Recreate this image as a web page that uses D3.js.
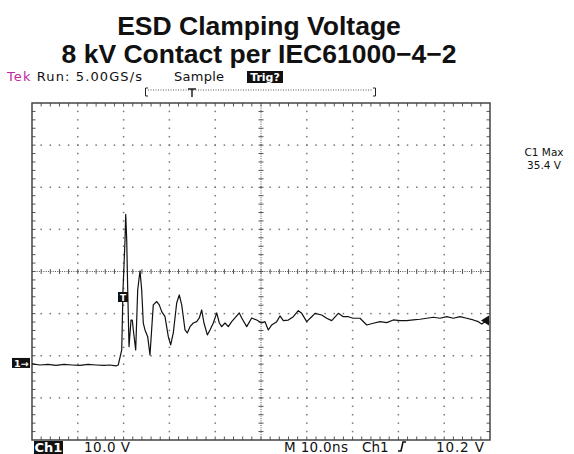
<!DOCTYPE html>
<html><head><meta charset="utf-8">
<script src="https://cdn.jsdelivr.net/npm/d3@7"></script>
<style>html,body{margin:0;padding:0;background:#fff;}svg{display:block;}</style>
</head><body>
<script>
// ---- data ----
const titleLines = ["ESD Clamping Voltage", "8 kV Contact per IEC61000\u22124\u22122"];
const timeNs = [0,1.75,3.49,5.24,6.99,8.73,10.48,12.23,13.97,15.72,17.03,18.34,18.84,19.59,19.87,20.31,20.46,20.68,20.90,21.18,21.62,21.9,22.12,22.64,23.08,23.58,23.95,24.3,24.67,25.26,25.76,26.48,27.23,27.79,28.32,29.04,29.76,30.28,30.85,31.59,32.16,32.69,33.41,33.91,34.5,35.22,35.96,36.53,37.05,37.55,38.28,38.86,39.59,40.33,40.9,41.42,42.14,42.86,43.6,44.32,45.26,45.79,46.88,47.97,49.06,50.15,50.87,51.59,52.34,53.43,54.15,54.87,55.96,57.05,58.14,58.89,59.98,61.07,61.79,63.25,64.34,65.44,66.88,67.97,69.06,70.15,71.62,73.08,74.52,75.98,77.45,78.89,80.35,81.81,83.25,84.72,86.18,87.62,89.08,90.55,91.99,93.45,94.91,96.35,97.45,98.19,98.91,99.63];
const voltsV = [-0.12,-0.36,-0.24,-0.47,-0.24,-0.36,-0.47,-0.24,-0.36,-0.47,-0.36,-0.59,-0.36,3.2,17.45,29.3,35.4,29.3,17.45,4.0,10.3,10.3,7.95,3.2,17.45,22.0,17.45,9.6,7.95,6.36,2.0,13.9,14.7,13.9,12.3,11.1,6.36,4.4,7.24,14.36,16.26,13.9,7.95,7.24,8.74,9.6,9.92,10.8,12.7,9.6,6.77,7.95,9.6,12.0,9.6,8.74,9.6,8.74,9.92,10.8,12.0,10.8,8.74,10.8,10.3,9.6,9.92,7.95,9.14,9.92,11.28,10.16,10.3,11.1,12.53,11.9,9.92,11.1,11.9,11.5,10.73,10.16,11.9,11.1,11.1,10.73,10.73,9.14,9.54,9.92,9.69,10.33,10.16,10.16,10.33,10.49,10.73,10.97,10.73,11.1,10.73,11.1,10.73,10.33,9.92,9.38,9.92,9.69];
const timeDomain = [0, 100];          // ns, 10 ns/div
const voltDomain = [-18.17, 61.83];   // V, 10 V/div
const measLabels = ["C1 Max", "35.4 V"];
const bottomLabels = {ch: "Ch1", volts: "10.0 V", time: "M 10.0ns", trigCh: "Ch1", trigLevel: "10.2 V"};

const W = 574, H = 454;
const svg = d3.select("body").append("svg").attr("width", W).attr("height", H);
const L = 32, R = 490, T = 103, B = 440;
const x = d3.scaleLinear().domain(timeDomain).range([L, R]);
const y = d3.scaleLinear().domain(voltDomain).range([B, T]);
const dx = d3.scaleLinear().domain([0, 10]).range([L, R]);
const dy = d3.scaleLinear().domain([0, 8]).range([B, T]);
const FONT = "DejaVu Sans, sans-serif";

// titles
svg.selectAll("text.title").data(titleLines).join("text")
  .attr("x", 259).attr("y", (d, i) => 35 + i * 28)
  .attr("text-anchor", "middle").attr("font-family", "Liberation Sans, Arial, sans-serif")
  .attr("font-weight", "bold").attr("font-size", 26.5).attr("fill", "#111").text(d => d);

// header
const hdr = svg.append("text").attr("x", 7).attr("y", 81).attr("font-family", FONT).attr("font-size", 13)
  .attr("textLength", 135).attr("lengthAdjust", "spacing");
hdr.append("tspan").attr("fill", "#c2289e").text("Tek");
hdr.append("tspan").attr("fill", "#111").text(" Run: 5.00GS/s");
svg.append("text").attr("x", 174).attr("y", 81).attr("font-family", FONT).attr("font-size", 13).attr("fill", "#111")
  .attr("textLength", 50).attr("lengthAdjust", "spacing").text("Sample");
svg.append("rect").attr("x", 247).attr("y", 71).attr("width", 36).attr("height", 12).attr("fill", "#111");
svg.append("text").attr("x", 265).attr("y", 81).attr("text-anchor", "middle").attr("font-family", FONT).attr("font-weight", "bold").attr("font-size", 11).attr("fill", "#fff").text("Trig?");

// record bar
const bar = svg.append("g").attr("stroke", "#222").attr("fill", "none");
bar.append("path").attr("d", "M148,88 L145.5,88 L145.5,96 L148,96").attr("stroke-width", 1);
bar.append("path").attr("d", "M373,88 L375.5,88 L375.5,96 L373,96").attr("stroke-width", 1);
bar.append("line").attr("x1", 148).attr("x2", 373).attr("y1", 90).attr("y2", 90).attr("stroke-width", 1).attr("stroke-dasharray", "1,1.5").attr("stroke", "#555");
bar.append("path").attr("d", "M188,89 L196,89 M192,89 L192,97").attr("stroke-width", 1.5);

// grid
const grid = svg.append("g");
const minorX = d3.range(0, 50.001, 1).map(i => i / 5);
const minorY = d3.range(0, 40.001, 1).map(i => i / 5);
for (let i = 1; i < 10; i++) {
  if (i === 5) continue;
  grid.selectAll(null).data(minorY.slice(1, -1)).join("rect")
    .attr("x", dx(i) - 0.75).attr("y", d => dy(d) - 0.75).attr("width", 1.5).attr("height", 1.5).attr("fill", "#777");
}
for (let j = 1; j < 8; j++) {
  if (j === 4) continue;
  grid.selectAll(null).data(minorX.slice(1, -1)).join("rect")
    .attr("x", d => dx(d) - 0.75).attr("y", dy(j) - 0.75).attr("width", 1.5).attr("height", 1.5).attr("fill", "#777");
}
grid.append("line").attr("x1", L).attr("x2", R).attr("y1", dy(4)).attr("y2", dy(4)).attr("stroke", "#555").attr("stroke-width", 1).attr("stroke-dasharray", "1,1.3");
grid.append("line").attr("x1", dx(5)).attr("x2", dx(5)).attr("y1", T).attr("y2", B).attr("stroke", "#555").attr("stroke-width", 1).attr("stroke-dasharray", "1,1.3");
grid.selectAll(null).data(minorX.slice(1, -1)).join("line")
  .attr("x1", d => dx(d)).attr("x2", d => dx(d)).attr("y1", dy(4) - 2.5).attr("y2", dy(4) + 2.5).attr("stroke", "#555");
grid.selectAll(null).data(minorY.slice(1, -1)).join("line")
  .attr("y1", d => dy(d)).attr("y2", d => dy(d)).attr("x1", dx(5) - 2.5).attr("x2", dx(5) + 2.5).attr("stroke", "#555");
grid.selectAll(null).data(minorX.slice(1, -1)).join("line")
  .attr("x1", d => dx(d)).attr("x2", d => dx(d)).attr("y1", T).attr("y2", T + 3.5).attr("stroke", "#555");
grid.selectAll(null).data(minorX.slice(1, -1)).join("line")
  .attr("x1", d => dx(d)).attr("x2", d => dx(d)).attr("y1", B).attr("y2", B - 3.5).attr("stroke", "#555");
grid.selectAll(null).data(minorY.slice(1, -1)).join("line")
  .attr("y1", d => dy(d)).attr("y2", d => dy(d)).attr("x1", L).attr("x2", L + 3.5).attr("stroke", "#555");
grid.selectAll(null).data(minorY.slice(1, -1)).join("line")
  .attr("y1", d => dy(d)).attr("y2", d => dy(d)).attr("x1", R).attr("x2", R - 3.5).attr("stroke", "#555");
grid.append("rect").attr("x", L).attr("y", T).attr("width", R - L).attr("height", B - T)
  .attr("fill", "none").attr("stroke", "#444").attr("stroke-width", 1.5);

// trace
const pts = timeNs.map((t, i) => [t, voltsV[i]]);
svg.append("path").datum(pts)
  .attr("d", d3.line().x(d => x(d[0])).y(d => y(d[1])))
  .attr("fill", "none").attr("stroke", "#111").attr("stroke-width", 1.2).attr("stroke-linejoin", "round");

// ground marker "1→"
svg.append("rect").attr("x", 12).attr("y", y(0) - 5.5).attr("width", 18).attr("height", 10).attr("fill", "#111");
svg.append("text").attr("x", 14).attr("y", y(0) + 3.5).attr("font-family", FONT).attr("font-weight", "bold").attr("font-size", 9.5).attr("fill", "#fff").text("1\u2192");
// trigger-point marker on trace
svg.append("rect").attr("x", 118).attr("y", 292).attr("width", 10).attr("height", 10).attr("fill", "#111");
svg.append("text").attr("x", 123).attr("y", 300.5).attr("text-anchor", "middle").attr("font-family", FONT).attr("font-weight", "bold").attr("font-size", 9).attr("fill", "#fff").text("T");
// trigger level arrow on right edge
const tl = y(10.2);
svg.append("path").attr("d", `M${R - 9},${tl} L${R - 1},${tl - 5} L${R - 1},${tl + 5} Z`).attr("fill", "#111");

// measurement
svg.selectAll("text.meas").data(measLabels).join("text")
  .attr("x", 544).attr("y", (d, i) => 156 + i * 12.5).attr("text-anchor", "middle")
  .attr("font-family", FONT).attr("font-size", 10.5).attr("fill", "#111").text(d => d);

// bottom status
const by = 452;
svg.append("rect").attr("x", 34).attr("y", 441).attr("width", 29).attr("height", 13).attr("fill", "#111");
svg.append("text").attr("x", 48.5).attr("y", by).attr("text-anchor", "middle").attr("font-family", FONT).attr("font-weight", "bold").attr("font-size", 13).attr("fill", "#fff").text(bottomLabels.ch);
const bt = (tx, xx, w) => {
  const t = svg.append("text").attr("x", xx).attr("y", by).attr("font-family", FONT).attr("font-size", 13.5).attr("fill", "#111").text(tx);
  if (w) t.attr("textLength", w).attr("lengthAdjust", "spacing");
};
bt(bottomLabels.volts, 84, 46);
bt(bottomLabels.time, 284, 64);
bt(bottomLabels.trigCh, 362, null);
bt(bottomLabels.trigLevel, 436, 48);
svg.append("path").attr("d", "M398,451 L401,451 L403,442 L406,442").attr("fill", "none").attr("stroke", "#111").attr("stroke-width", 1.6);
</script>
</body></html>
